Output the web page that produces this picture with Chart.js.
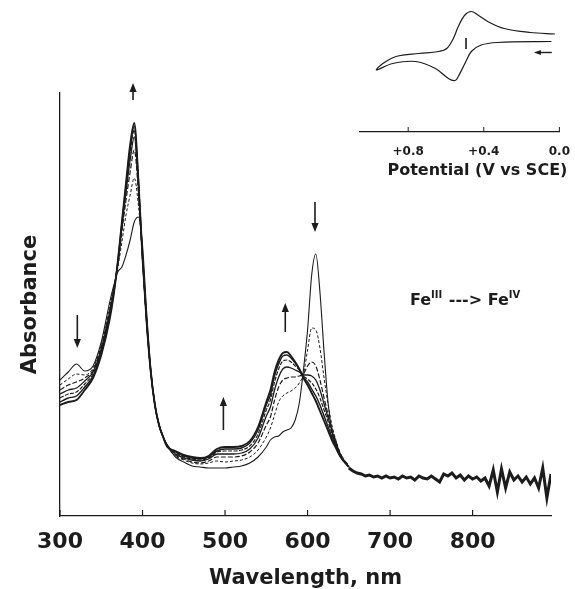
<!DOCTYPE html>
<html>
<head>
<meta charset="utf-8">
<script src="https://cdn.jsdelivr.net/npm/chart.js@4.4.0/dist/chart.umd.min.js"></script>
<style>
  body { margin: 0; background: #fff; }
  #wrap { position: relative; width: 575px; height: 589px; }
  #main { position: absolute; left: 0; top: 0; }
  #inset { position: absolute; left: 340px; top: 0; }
</style>
</head>
<body>
<div id="wrap">
  <canvas id="main" width="575" height="589"></canvas>
  <canvas id="inset" width="235" height="190"></canvas>
</div>
<script>
// wavelengths (nm) shared by the seven spectra
const wavelengths = [300, 310, 320, 330, 340, 350, 360, 365, 370, 375, 380, 385, 390, 395, 400, 405, 410, 415, 420, 425,
    430, 440, 450, 460, 470, 480, 490, 500, 510, 520, 530, 540, 550, 555, 560, 565, 570, 575, 580, 585,
    590, 595, 600, 605, 610, 615, 620, 625, 630, 635, 640, 650];

// Fe(III) start -> Fe(IV) end
const spec0 = [.136, .144, .152, .145, .150, .174, .213, .230, .244, .249, .261, .276, .294, .299, .271, .204, .148, .112, .091, .079,
    .070, .059, .054, .050, .049, .048, .048, .048, .049, .050, .053, .059, .069, .076, .079, .080, .084, .086, .088, .096,
    .113, .146, .186, .241, .262, .224, .164, .112, .083, .068, .059, .049];
const spec1 = [.131, .137, .142, .141, .148, .171, .209, .228, .248, .274, .301, .321, .338, .311, .261, .196, .145, .111, .091, .079,
    .071, .060, .056, .053, .052, .053, .055, .054, .055, .056, .059, .066, .079, .088, .101, .114, .120, .123, .125, .128,
    .133, .142, .166, .188, .186, .168, .138, .111, .089, .074, .062, .050];
const spec2 = [.126, .131, .134, .138, .146, .169, .206, .226, .250, .284, .316, .344, .366, .324, .258, .194, .144, .111, .091, .079,
    .071, .061, .057, .054, .053, .055, .059, .059, .059, .060, .064, .073, .091, .099, .116, .129, .136, .138, .139, .139,
    .140, .142, .150, .154, .150, .136, .118, .101, .086, .073, .062, .050];
const spec3 = [.122, .126, .128, .135, .144, .167, .203, .225, .252, .289, .324, .356, .379, .330, .258, .194, .144, .111, .091, .079,
    .071, .062, .058, .056, .055, .057, .062, .062, .062, .063, .067, .078, .100, .109, .126, .139, .147, .149, .148, .146,
    .144, .141, .141, .140, .136, .126, .112, .098, .084, .072, .061, .049];
const spec4 = [.118, .122, .124, .132, .142, .165, .200, .223, .253, .292, .329, .364, .386, .334, .258, .194, .144, .111, .091, .079,
    .070, .063, .059, .057, .056, .058, .064, .065, .065, .066, .070, .082, .106, .116, .134, .147, .155, .156, .154, .150,
    .146, .140, .137, .133, .127, .118, .106, .094, .081, .070, .060, .049];
const spec5 = [.114, .118, .120, .129, .140, .163, .198, .222, .254, .293, .331, .368, .390, .336, .258, .194, .144, .111, .091, .079,
    .070, .064, .060, .058, .057, .059, .065, .067, .067, .068, .073, .086, .111, .121, .140, .152, .160, .161, .158, .153,
    .147, .139, .134, .127, .120, .111, .100, .089, .078, .069, .060, .049];
const spec6 = [.111, .114, .116, .126, .138, .161, .196, .221, .254, .294, .333, .371, .393, .336, .258, .194, .144, .111, .091, .079,
    .069, .065, .061, .059, .058, .060, .067, .069, .069, .070, .075, .089, .114, .126, .144, .156, .163, .164, .160, .154,
    .147, .138, .131, .123, .115, .105, .095, .085, .075, .067, .059, .049];

// noisy red end where all spectra lie on top of each other
const tailWavelengths = [650, 655, 660, 665, 670, 675, 680, 685, 690, 695, 700, 705, 710, 715, 720, 725, 730, 735, 740, 745,
    750, 755, 760, 765, 770, 775, 780, 785, 790, 795, 800, 805, 810, 815, 820, 825, 830, 835, 840, 845,
    850, 855, 860, 865, 870, 875, 880, 885, 890, 895];
const tailValues = [.048, .045, .043, .042, .040, .041, .039, .040, .038, .040, .038, .039, .037, .040, .038, .039, .036, .040, .038, .037,
    .040, .037, .034, .042, .040, .043, .038, .041, .036, .040, .037, .039, .035, .038, .030, .046, .024, .047, .028, .044,
    .036, .040, .034, .039, .032, .038, .028, .048, .018, .042];

const xTicks = [300, 400, 500, 600, 700, 800];

// cyclic voltammogram (inset)
const cvPotential = [0.042, 0.327, 0.414, 0.466, 0.500, 0.535, 0.552, 0.587, 0.656, 0.760, 0.882, 0.968,
    0.934, 0.864, 0.743, 0.639, 0.596, 0.561, 0.535, 0.500, 0.466, 0.431, 0.379, 0.292, 0.154, 0.024];
const cvCurrent = [0.7, 0.5, 0.0, -1.3, -3.7, -6.3, -7.1, -6.7, -4.7, -3.3, -3.7, -5.0,
    -3.7, -2.3, -1.7, -1.3, -0.7, 1.3, 3.7, 6.0, 6.7, 6.0, 4.7, 3.3, 2.5, 2.2];
const potentialTicks = [0.8, 0.4, 0.0];

const ink = '#1c1c1c';
const font = 'DejaVu Sans';

const spectra = [spec0, spec1, spec2, spec3, spec4, spec5, spec6];
const lineStyles = [
    {w: 1.1, dash: []},
    {w: 1.0, dash: [3, 2]},
    {w: 1.2, dash: [5, 2]},
    {w: 1.3, dash: []},
    {w: 1.2, dash: [4, 1.5]},
    {w: 1.4, dash: []},
    {w: 1.9, dash: []}
];

// arrows: wavelength, start absorbance, tip absorbance
const arrows = [
    {x: 321, from: .201, to: .168},
    {x: 388.5, from: .416, to: .433},
    {x: 498, from: .086, to: .119},
    {x: 573, from: .184, to: .213},
    {x: 609, from: .314, to: .284}
];

function drawArrow(ctx, px, y1, y2, head) {
    const dir = y2 < y1 ? -1 : 1;
    ctx.beginPath();
    ctx.moveTo(px, y1);
    ctx.lineTo(px, y2 - dir * head);
    ctx.stroke();
    ctx.beginPath();
    ctx.moveTo(px, y2);
    ctx.lineTo(px - head * 0.4, y2 - dir * head);
    ctx.lineTo(px + head * 0.4, y2 - dir * head);
    ctx.closePath();
    ctx.fill();
}

const mainDecor = {
    id: 'mainDecor',
    afterDraw(chart) {
        const {ctx, scales: {x, y}} = chart;
        ctx.save();
        ctx.strokeStyle = ink;
        ctx.fillStyle = ink;
        ctx.lineWidth = 1.2;
        x.ticks.forEach(t => {
            const px = x.getPixelForValue(t.value);
            ctx.beginPath();
            ctx.moveTo(px, y.bottom);
            ctx.lineTo(px, y.bottom - 6);
            ctx.stroke();
        });
        ctx.lineWidth = 1.6;
        arrows.forEach(a => drawArrow(ctx, x.getPixelForValue(a.x), y.getPixelForValue(a.from), y.getPixelForValue(a.to), 9));

        // Fe(III) ---> Fe(IV)
        let px = x.getPixelForValue(724);
        const py = y.getPixelForValue(.215);
        ctx.textBaseline = 'middle';
        ctx.textAlign = 'left';
        const parts = [['Fe', 0], ['III', 1], [' ---> Fe', 0], ['IV', 1]];
        parts.forEach(([txt, sup]) => {
            ctx.font = sup ? `bold 10px "${font}"` : `bold 16px "${font}"`;
            ctx.fillText(txt, px, sup ? py - 6 : py);
            px += ctx.measureText(txt).width + (sup ? 1 : 0);
        });
        ctx.restore();
    }
};

const datasets = spectra.map((s, i) => ({
    data: wavelengths.map((w, j) => ({x: w, y: s[j]})),
    borderColor: ink,
    borderWidth: lineStyles[i].w,
    borderDash: lineStyles[i].dash,
    pointRadius: 0,
    cubicInterpolationMode: 'monotone'
}));
datasets.push({
    data: tailWavelengths.map((w, j) => ({x: w, y: tailValues[j]})),
    borderColor: ink,
    borderWidth: 3,
    pointRadius: 0,
    tension: 0
});

new Chart(document.getElementById('main'), {
    type: 'line',
    data: {datasets},
    options: {
        responsive: false,
        animation: false,
        layout: {padding: {top: 93, right: 24, left: 0, bottom: 0}},
        plugins: {legend: {display: false}, tooltip: {enabled: false}},
        scales: {
            x: {
                type: 'linear',
                min: 300,
                max: 895,
                afterFit(scale) { scale.height = 73; },
                afterBuildTicks(scale) { scale.ticks = xTicks.map(v => ({value: v})); },
                grid: {display: false},
                border: {display: true, color: ink, width: 1.3},
                ticks: {
                    color: ink,
                    padding: 5,
                    maxRotation: 0,
                    font: {family: font, size: 22, weight: 'bold'}
                },
                title: {
                    display: true,
                    text: 'Wavelength, nm',
                    color: ink,
                    padding: {top: 0, bottom: 0},
                    font: {family: font, size: 21, weight: 'bold', lineHeight: 1.0}
                }
            },
            y: {
                min: 0,
                max: 0.423,
                afterFit(scale) { scale.width = 60; },
                grid: {display: false},
                border: {display: true, color: ink, width: 1.3},
                ticks: {display: false},
                title: {
                    display: true,
                    text: 'Absorbance',
                    color: ink,
                    padding: {top: 18, bottom: 0},
                    font: {family: font, size: 21, weight: 'bold'}
                }
            }
        }
    },
    plugins: [mainDecor]
});

const insetDecor = {
    id: 'insetDecor',
    afterDraw(chart) {
        const {ctx, scales: {x, y}} = chart;
        ctx.save();
        ctx.strokeStyle = ink;
        ctx.fillStyle = ink;
        ctx.lineWidth = 1;
        x.ticks.forEach(t => {
            const px = x.getPixelForValue(t.value);
            ctx.beginPath();
            ctx.moveTo(px, y.bottom);
            ctx.lineTo(px, y.bottom - 5);
            ctx.stroke();
        });
        // axis title, right-aligned under the axis as in the original
        ctx.font = `bold 16px "${font}"`;
        ctx.textAlign = 'right';
        ctx.textBaseline = 'middle';
        ctx.fillText('Potential (V vs SCE)', x.right + 8, x.bottom - 19);
        // current scale bar
        ctx.lineWidth = 1.6;
        const bx = x.getPixelForValue(0.494);
        ctx.beginPath();
        ctx.moveTo(bx, y.getPixelForValue(1.4));
        ctx.lineTo(bx, y.getPixelForValue(-0.8));
        ctx.stroke();
        // scan direction
        const ay = y.getPixelForValue(-1.5);
        const ax1 = x.getPixelForValue(0.04), ax2 = x.getPixelForValue(0.135);
        ctx.lineWidth = 1.4;
        ctx.beginPath();
        ctx.moveTo(ax1, ay);
        ctx.lineTo(ax2 + 6, ay);
        ctx.stroke();
        ctx.beginPath();
        ctx.moveTo(ax2, ay);
        ctx.lineTo(ax2 + 7, ay - 2.5);
        ctx.lineTo(ax2 + 7, ay + 2.5);
        ctx.closePath();
        ctx.fill();
        ctx.restore();
    }
};

new Chart(document.getElementById('inset'), {
    type: 'line',
    data: {
        datasets: [{
            data: cvPotential.map((e, i) => ({x: e, y: cvCurrent[i]})),
            borderColor: ink,
            borderWidth: 1.2,
            pointRadius: 0,
            tension: 0.35
        }]
    },
    options: {
        responsive: false,
        animation: false,
        layout: {padding: {top: 5, right: 12, left: 20, bottom: 0}},
        plugins: {legend: {display: false}, tooltip: {enabled: false}},
        scales: {
            x: {
                type: 'linear',
                reverse: true,
                min: 0,
                max: 1.055,
                afterFit(scale) { scale.height = 58; },
                afterBuildTicks(scale) { scale.ticks = potentialTicks.map(v => ({value: v})); },
                grid: {display: false},
                border: {display: true, color: ink, width: 1.2},
                ticks: {
                    color: ink,
                    padding: 5,
                    maxRotation: 0,
                    font: {family: font, size: 12, weight: 'bold'},
                    callback: v => v === 0 ? '0.0' : '+' + v.toFixed(1)
                }
            },
            y: {
                display: false,
                min: -17.4,
                max: 8
            }
        }
    },
    plugins: [insetDecor]
});
</script>
</body>
</html>
